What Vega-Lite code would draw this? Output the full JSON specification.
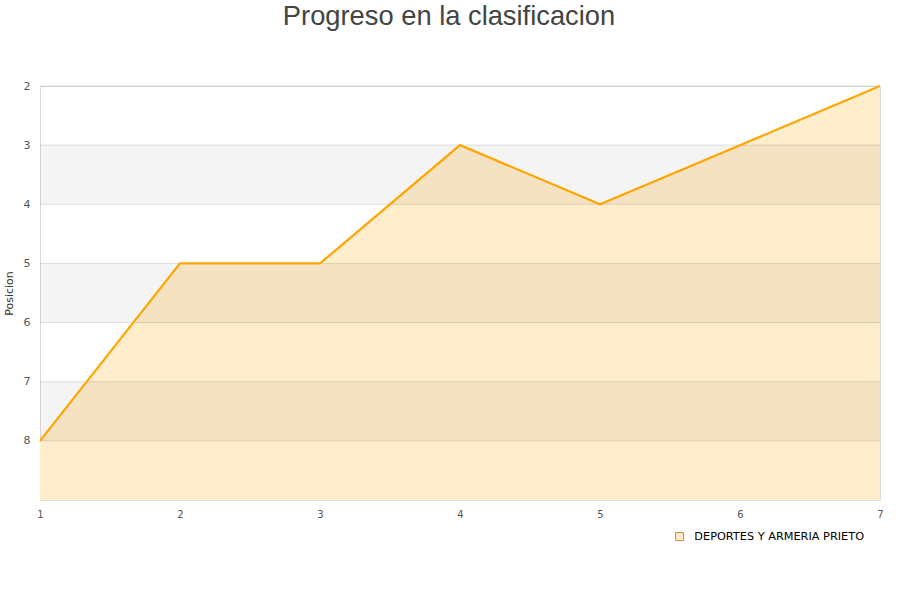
{
  "$schema": "https://vega.github.io/schema/vega-lite/v6.json",
  "width": 840,
  "height": 414,
  "autosize": "none",
  "padding": {"left": 40, "top": 86, "right": 20, "bottom": 100},
  "background": "white",
  "title": {
    "text": "Progreso en la clasificacion",
    "font": "Liberation Sans",
    "fontSize": 27.3,
    "fontWeight": "normal",
    "color": "#444444",
    "anchor": "middle",
    "frame": "group",
    "offset": 50,
    "dx": -11
  },
  "config": {
    "view": {"stroke": "#dddddd", "strokeWidth": 1},
    "font": "DejaVu Sans"
  },
  "datasets": {
    "bands": [
      {"y1": 3, "y2": 4},
      {"y1": 5, "y2": 6},
      {"y1": 7, "y2": 8}
    ],
    "grid": [
      {"y": 2}, {"y": 3}, {"y": 4}, {"y": 5}, {"y": 6}, {"y": 7}, {"y": 8}
    ],
    "pos": [
      {"jornada": 1, "posicion": 8, "equipo": "DEPORTES Y ARMERIA PRIETO"},
      {"jornada": 2, "posicion": 5, "equipo": "DEPORTES Y ARMERIA PRIETO"},
      {"jornada": 3, "posicion": 5, "equipo": "DEPORTES Y ARMERIA PRIETO"},
      {"jornada": 4, "posicion": 3, "equipo": "DEPORTES Y ARMERIA PRIETO"},
      {"jornada": 5, "posicion": 4, "equipo": "DEPORTES Y ARMERIA PRIETO"},
      {"jornada": 6, "posicion": 3, "equipo": "DEPORTES Y ARMERIA PRIETO"},
      {"jornada": 7, "posicion": 2, "equipo": "DEPORTES Y ARMERIA PRIETO"}
    ]
  },
  "layer": [
    {
      "data": {"name": "pos"},
      "mark": {"type": "area", "line": false},
      "encoding": {
        "x": {"field": "jornada", "type": "quantitative", "scale": {"domain": [1, 7], "nice": false, "zero": false},
          "axis": {
            "title": null,
            "values": [1, 2, 3, 4, 5, 6, 7],
            "format": "d",
            "grid": false,
            "ticks": false,
            "domain": false,
            "labelFlush": false,
            "labelPadding": 9,
            "labelFontSize": 10,
            "labelColor": "#555555"
          }
        },
        "y": {"field": "posicion", "type": "quantitative", "scale": {"domain": [2, 9], "reverse": true, "nice": false, "zero": false},
          "axis": {
            "title": "Posicion",
            "values": [2, 3, 4, 5, 6, 7, 8],
            "format": "d",
            "grid": false,
            "ticks": false,
            "domain": false,
            "labelPadding": 10,
            "labelFontSize": 11,
            "labelColor": "#555555",
            "titleFontSize": 11,
            "titleFontWeight": "normal",
            "titleColor": "#333333",
            "titlePadding": 9
          }
        },
        "y2": {"datum": 9},
        "color": {
          "field": "equipo",
          "type": "nominal",
          "scale": {"range": ["#ffedcc"]},
          "legend": {
            "title": null,
            "orient": "none",
            "legendX": 634,
            "legendY": 445,
            "symbolType": "square",
            "symbolSize": 64,
            "symbolStrokeColor": "#c08a40",
            "symbolStrokeWidth": 1,
            "labelFontSize": 11.3,
            "labelColor": "#000000",
            "labelOffset": 9,
            "labelLimit": 0,
            "encode": {
              "symbols": {"update": {"stroke": {"value": "#c08a40"}, "strokeWidth": {"value": 1}}}
            }
          }
        }
      }
    },
    {
      "data": {"name": "bands"},
      "mark": {"type": "rect", "color": "#000000", "opacity": 0.045},
      "encoding": {
        "y": {"field": "y1", "type": "quantitative"},
        "y2": {"field": "y2"}
      }
    },
    {
      "data": {"name": "grid"},
      "mark": {"type": "rule", "color": "#000000", "opacity": 0.12, "strokeWidth": 1},
      "encoding": {
        "y": {"field": "y", "type": "quantitative"}
      }
    },
    {
      "data": {"name": "pos"},
      "mark": {"type": "line", "color": "#ffa500", "strokeWidth": 2.2},
      "encoding": {
        "x": {"field": "jornada", "type": "quantitative"},
        "y": {"field": "posicion", "type": "quantitative"}
      }
    }
  ]
}
